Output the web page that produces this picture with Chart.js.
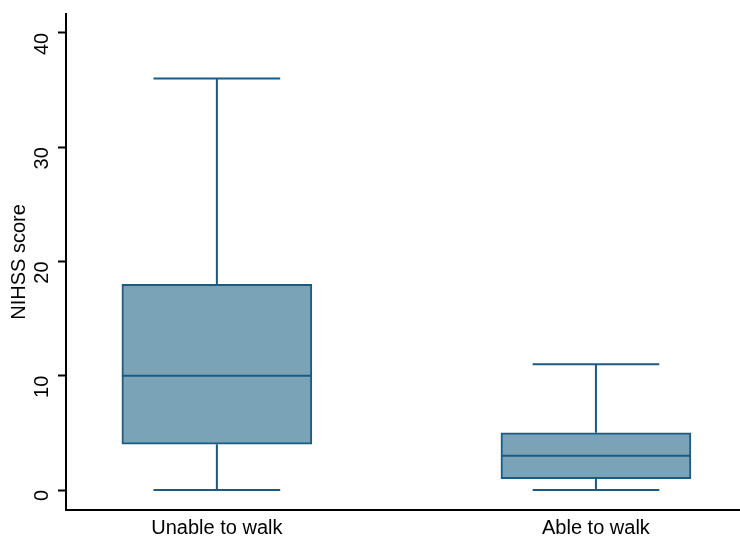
<!DOCTYPE html>
<html>
<head>
<meta charset="utf-8">
<script src="https://cdn.jsdelivr.net/npm/chart.js@4/dist/chart.umd.min.js"></script>
<style>
  html, body { margin: 0; padding: 0; background: #fff; }
  #wrap { width: 740px; height: 538px; }
</style>
</head>
<body>
<div id="wrap"><canvas id="c" width="740" height="538"></canvas></div>
<script>
// Groups and their box-plot summaries (NIHSS score)
const categories = ['Unable to walk', 'Able to walk'];
const whiskerLow  = [0, 0];
const quartile1   = [4, 1];
const medians     = [10, 3];
const quartile3   = [18, 5];
const whiskerHigh = [36, 11];
const yTicks = [0, 10, 20, 30, 40];

const FILL = '#7aa3b7';
const LINE = '#1b5b82';
const FONT = "'Liberation Sans', Arial, sans-serif";

// Boxes span Q1..Q3 as floating bars at positions 1, 2, ...
const boxData = categories.map((c, i) => ({ x: i + 1, y: [quartile1[i], quartile3[i]] }));

// Whiskers, caps and median lines drawn through the chart's scales
const boxExtras = {
  id: 'boxExtras',
  afterDatasetsDraw(chart) {
    const { ctx, scales: { x, y } } = chart;
    const meta = chart.getDatasetMeta(0);
    ctx.save();
    ctx.strokeStyle = LINE;
    ctx.lineWidth = 2;
    ctx.lineCap = 'butt';
    categories.forEach((c, i) => {
      const bar = meta.data[i];
      const cx = x.getPixelForValue(i + 1);
      const half = bar.width / 2;
      const cap = half * 2 / 3;
      const yLo = y.getPixelForValue(whiskerLow[i]);
      const yQ1 = y.getPixelForValue(quartile1[i]);
      const yQ3 = y.getPixelForValue(quartile3[i]);
      const yHi = y.getPixelForValue(whiskerHigh[i]);
      const yMed = y.getPixelForValue(medians[i]);
      ctx.beginPath();
      // upper whisker + cap
      ctx.moveTo(cx, yQ3); ctx.lineTo(cx, yHi);
      ctx.moveTo(cx - cap, yHi); ctx.lineTo(cx + cap, yHi);
      // lower whisker + cap
      ctx.moveTo(cx, yQ1); ctx.lineTo(cx, yLo);
      ctx.moveTo(cx - cap, yLo); ctx.lineTo(cx + cap, yLo);
      // median
      ctx.moveTo(cx - half, yMed); ctx.lineTo(cx + half, yMed);
      ctx.stroke();
    });
    ctx.restore();
  }
};

new Chart(document.getElementById('c'), {
  type: 'bar',
  data: {
    datasets: [{
      data: boxData,
      backgroundColor: FILL,
      borderColor: LINE,
      borderWidth: 2,
      borderSkipped: false,
      barThickness: 190
    }]
  },
  options: {
    responsive: false,
    animation: false,
    layout: { padding: { top: 14, right: 0, left: 0, bottom: 0 } },
    plugins: { legend: { display: false }, tooltip: { enabled: false } },
    scales: {
      x: {
        type: 'linear',
        offset: false,
        min: 0.602,
        max: 2.38,
        afterBuildTicks(scale) { scale.ticks = categories.map((c, i) => ({ value: i + 1 })); },
        afterFit(scale) { scale.height = 28; scale.paddingLeft = 0; scale.paddingRight = 0; },
        ticks: {
          callback: (v) => categories[Math.round(v) - 1] || '',
          color: '#000',
          font: { family: FONT, size: 20 },
          padding: 6,
          autoSkip: false,
          maxRotation: 0
        },
        grid: { display: true, drawOnChartArea: false, drawTicks: false },
        border: { display: true, color: '#000', width: 2 }
      },
      y: {
        min: -1.75,
        max: 41.65,
        afterBuildTicks(scale) { scale.ticks = yTicks.map(v => ({ value: v })); },
        afterFit(scale) { scale.width = 66; scale.paddingTop = 0; scale.paddingBottom = 0; },
        ticks: {
          color: '#000',
          font: { family: FONT, size: 20 },
          minRotation: 90,
          maxRotation: 90,
          padding: 16
        },
        grid: { display: true, drawOnChartArea: false, drawTicks: true, tickLength: 8, color: '#000', tickWidth: 2 },
        border: { display: true, color: '#000', width: 2 },
        title: {
          display: true,
          text: 'NIHSS score',
          color: '#000',
          font: { family: FONT, size: 20 },
          padding: { top: 7, bottom: 0 }
        }
      }
    }
  },
  plugins: [boxExtras]
});
</script>
</body>
</html>
